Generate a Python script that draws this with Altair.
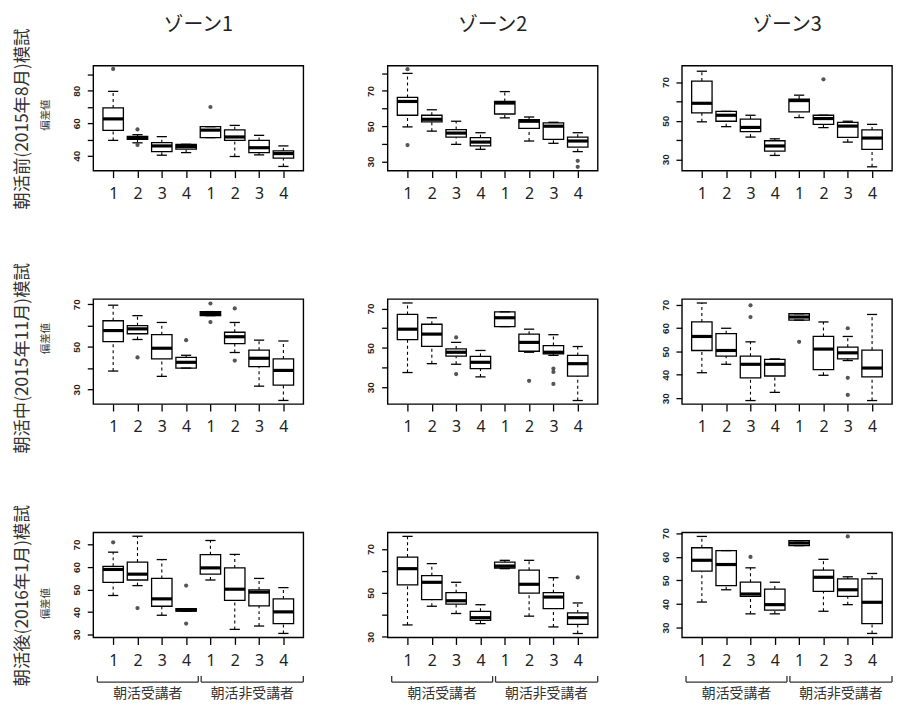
import json
import altair as alt
import pandas as pd

CJK = "Noto Sans CJK JP"

zones = ["ゾーン1", "ゾーン2", "ゾーン3"]
periods = ["朝活前(2015年8月)模試", "朝活中(2015年11月)模試", "朝活後(2016年1月)模試"]
y_title = "偏差値"
groups = ["朝活受講者", "朝活非受講者"]
positions = [1, 2, 3, 4, 5, 6, 7, 8]
tick_labels = ["1", "2", "3", "4", "1", "2", "3", "4"]

# box statistics: (lower whisker, Q1, median, Q3, upper whisker) for boxes 1..8
pre_z1 = [(49.5, 55.6, 62.7, 69.4, 79.6), (48.0, 50.2, 51.2, 52.0, 53.0), (40.4, 42.6, 46.1, 48.1, 51.8),
          (42.0, 44.1, 45.7, 47.1, 47.1), (51.2, 51.2, 55.8, 57.9, 57.9), (39.6, 49.5, 51.6, 56.0, 58.7),
          (40.6, 42.0, 45.0, 49.5, 52.6), (33.5, 38.6, 41.4, 43.0, 46.1)]
pre_z2 = [(49.6, 56.2, 64.0, 66.3, 79.9), (47.2, 52.4, 53.9, 56.2, 59.3), (39.7, 43.8, 46.1, 48.1, 52.8),
          (36.9, 38.8, 41.0, 43.5, 46.3), (54.7, 56.9, 63.1, 64.0, 69.6), (41.6, 48.7, 52.8, 53.7, 55.2),
          (40.3, 42.5, 50.0, 51.9, 52.2), (35.6, 38.2, 41.6, 43.8, 46.3)]
pre_z3 = [(49.4, 54.0, 59.0, 70.5, 75.6), (46.9, 49.7, 52.8, 54.8, 54.8), (41.5, 44.3, 46.5, 50.8, 52.8),
          (32.0, 34.2, 36.9, 39.6, 40.6), (51.6, 54.5, 60.4, 61.2, 63.2), (46.4, 48.1, 51.1, 52.8, 52.8),
          (38.9, 41.3, 47.2, 49.1, 49.7), (26.1, 35.1, 41.0, 45.2, 48.1)]
mid_z1 = [(38.6, 52.4, 57.6, 62.2, 69.5), (53.4, 56.1, 58.4, 59.9, 64.6), (36.1, 44.3, 49.3, 55.7, 61.4),
          (40.0, 40.0, 42.7, 45.0, 46.0), (64.6, 64.6, 65.6, 66.5, 66.5), (47.3, 51.5, 54.7, 56.8, 61.4),
          (31.5, 40.7, 44.6, 48.4, 53.1), (24.8, 32.0, 38.9, 44.3, 52.7)]
mid_z2 = [(37.5, 54.2, 59.5, 67.0, 72.8), (42.0, 50.8, 57.0, 62.0, 65.3), (41.7, 45.8, 47.8, 49.5, 52.8),
          (35.3, 39.5, 42.7, 45.7, 48.7), (60.8, 60.8, 65.3, 68.3, 68.3), (47.8, 48.3, 52.8, 57.0, 59.5),
          (46.2, 47.0, 47.8, 51.2, 56.7), (23.3, 35.7, 42.0, 46.2, 50.7)]
mid_z3 = [(40.9, 50.4, 56.4, 62.6, 70.7), (44.5, 48.0, 50.4, 57.6, 59.9), (29.0, 38.7, 44.5, 48.0, 54.1),
          (32.5, 39.5, 44.5, 46.6, 46.8), (63.4, 63.4, 64.7, 66.1, 66.1), (39.8, 42.2, 51.0, 56.4, 62.6),
          (46.1, 46.8, 49.4, 51.8, 56.4), (29.0, 39.1, 42.9, 50.6, 65.8)]
post_z1 = [(47.3, 53.1, 58.9, 60.3, 66.6), (51.7, 54.2, 56.8, 62.2, 73.7), (38.5, 42.5, 45.8, 54.9, 63.3),
           (40.3, 40.3, 40.8, 41.4, 41.4), (54.2, 56.8, 59.6, 65.5, 71.8), (32.2, 45.1, 50.1, 59.6, 65.6),
           (33.7, 42.7, 48.8, 49.8, 54.9), (30.4, 34.8, 40.0, 45.8, 50.8)]
post_z2 = [(35.4, 53.6, 61.0, 66.3, 75.7), (43.9, 46.9, 54.8, 57.8, 63.3), (40.6, 44.9, 46.4, 50.1, 54.8),
           (36.0, 37.5, 38.7, 41.6, 44.6), (61.0, 61.3, 62.2, 64.0, 64.8), (39.4, 49.9, 53.9, 60.3, 64.8),
           (34.5, 42.8, 48.1, 50.1, 56.9), (31.5, 35.7, 38.7, 40.9, 45.4)]
post_z3 = [(40.8, 53.9, 58.5, 63.8, 68.6), (46.0, 47.8, 56.7, 62.6, 62.6), (35.8, 43.2, 44.2, 49.2, 55.3),
           (35.8, 37.4, 39.7, 46.3, 49.2), (64.7, 64.7, 65.8, 66.8, 66.8), (36.9, 45.3, 51.3, 54.3, 58.9),
           (39.7, 43.2, 46.0, 50.6, 51.5), (27.5, 31.7, 40.7, 50.6, 52.9)]

# outliers: (box position, value)
pre_z1_out = [(1, 93.4), (2, 56.2), (2, 46.7), (5, 70.0)]
pre_z2_out = [(1, 82.3), (1, 39.3), (8, 30.4), (8, 27.0)]
pre_z3_out = [(6, 71.4)]
mid_z1_out = [(2, 45.0), (4, 53.1), (5, 70.3), (5, 61.6), (6, 68.0), (6, 43.5)]
mid_z2_out = [(3, 55.3), (3, 36.7), (6, 33.3), (7, 39.5), (7, 37.8), (7, 31.7)]
mid_z3_out = [(3, 69.7), (3, 64.7), (5, 54.1), (7, 59.9), (7, 38.7), (7, 31.4)]
post_z1_out = [(1, 71.0), (2, 41.7), (4, 51.7), (4, 34.8)]
post_z2_out = [(8, 57.0)]
post_z3_out = [(3, 59.9), (7, 68.6)]

# y axis ranges, tick values and label step per panel
pre_domains = [[30.9, 95.4], [24.8, 84.3], [24.1, 78.5]]
mid_domains = [[23.1, 72.4], [21.5, 74.8], [27.5, 72.4]]
post_domains = [[28.6, 75.4], [29.7, 77.5], [25.8, 70.3]]
pre_ticks = [[40, 50, 60, 70, 80, 90], [30, 40, 50, 60, 70, 80], [30, 40, 50, 60, 70]]
mid_ticks = [[30, 40, 50, 60, 70], [30, 40, 50, 60, 70], [30, 40, 50, 60, 70]]
post_ticks = [[30, 40, 50, 60, 70], [30, 40, 50, 60, 70], [30, 40, 50, 60, 70]]
pre_label_step = [20, 20, 20]
mid_label_step = [20, 20, 10]
post_label_step = [10, 20, 10]

x_domain = [0.18, 8.82]
group_from = [0.35, 4.62]
group_to = [4.5, 8.82]

row_label_dy = [1, 7, 11]
ytitle_dy = [-3, -13, 19]

stats_grid = [[pre_z1, pre_z2, pre_z3], [mid_z1, mid_z2, mid_z3], [post_z1, post_z2, post_z3]]
out_grid = [[pre_z1_out, pre_z2_out, pre_z3_out], [mid_z1_out, mid_z2_out, mid_z3_out],
            [post_z1_out, post_z2_out, post_z3_out]]
dom_grid = [pre_domains, mid_domains, post_domains]
tick_grid = [pre_ticks, mid_ticks, post_ticks]
step_grid = [pre_label_step, mid_label_step, post_label_step]

W, H = 212, 106


def panel(r, c):
    df = pd.DataFrame(stats_grid[r][c], columns=["lo", "q1", "med", "q3", "hi"])
    df["pos"] = positions
    df["bl"] = df["pos"] - 0.42
    df["br"] = df["pos"] + 0.42
    df["cl"] = df["pos"] - 0.21
    df["cr"] = df["pos"] + 0.21
    odf = pd.DataFrame(out_grid[r][c], columns=["pos", "val"])

    xs = alt.Scale(domain=x_domain, nice=False, zero=False)
    ys = alt.Scale(domain=dom_grid[r][c], nice=False, zero=False)
    ticks = tick_grid[r][c]
    if step_grid[r][c] == 10:
        lab_expr = "datum.label"
    else:
        lab_expr = f"(datum.value - {ticks[0]}) % 20 == 0 ? datum.label : ''"

    xaxis = alt.Axis(values=positions, labelExpr=f"{json.dumps(tick_labels)}[datum.value - 1]",
                     title=None, grid=False, domain=False, tickSize=7, tickWidth=1.3,
                     tickColor="black", labelFont="Noto Sans", labelFontSize=16,
                     labelColor="#222", labelPadding=8)
    yaxis = alt.Axis(values=ticks, labelExpr=lab_expr, title=None, grid=False, domain=False,
                     tickSize=6, tickWidth=1.3, tickColor="black", labelAngle=270,
                     labelAlign="center", labelBaseline="bottom", labelFont="Liberation Sans",
                     labelFontWeight="bold", labelFontSize=10, labelColor="#222", labelPadding=6)

    def X(f):
        return alt.X(f, type="quantitative", scale=xs, axis=xaxis)

    def Y(f):
        return alt.Y(f, type="quantitative", scale=ys, axis=yaxis)

    base = alt.Chart(df)
    layers = [
        base.mark_rule(color="black", strokeWidth=1.1, strokeDash=[3, 3]).encode(x=X("pos"), y=Y("q3"), y2="hi"),
        base.mark_rule(color="black", strokeWidth=1.1, strokeDash=[3, 3]).encode(x=X("pos"), y=Y("lo"), y2="q1"),
        base.mark_rect(fill="white", stroke="black", strokeWidth=1.3).encode(x=X("bl"), x2="br", y=Y("q1"), y2="q3"),
        base.mark_rule(color="black", strokeWidth=3.2).encode(x=X("bl"), x2="br", y=Y("med")),
        base.mark_rule(color="black", strokeWidth=1.3).encode(x=X("cl"), x2="cr", y=Y("hi")),
        base.mark_rule(color="black", strokeWidth=1.3).encode(x=X("cl"), x2="cr", y=Y("lo")),
        alt.Chart(odf).mark_circle(size=18, color="#555", opacity=1).encode(x=X("pos"), y=Y("val")),
    ]
    if c == 0:
        layers.append(
            alt.Chart(pd.DataFrame({"t": [periods[r]]})).mark_text(
                angle=270, font=CJK, fontSize=17.5, color="#333", align="center", baseline="middle"
            ).encode(text="t:N", x=alt.value(-71), y=alt.value(H / 2 + row_label_dy[r]))
        )
        layers.append(
            alt.Chart(pd.DataFrame({"t": [y_title]})).mark_text(
                angle=270, font=CJK, fontSize=10.5, color="#333", align="center", baseline="middle"
            ).encode(text="t:N", x=alt.value(-48), y=alt.value(H / 2 + ytitle_dy[r]))
        )
    if r == 0:
        layers.append(
            alt.Chart(pd.DataFrame({"t": [zones[c]]})).mark_text(
                font=CJK, fontSize=20, color="#222", align="center", baseline="middle"
            ).encode(text="t:N", x=alt.value(W / 2), y=alt.value(-41))
        )
    if r == 2:
        bdf = pd.DataFrame({"a": group_from, "b": group_to, "g": groups})
        bdf["m"] = (bdf["a"] + bdf["b"]) / 2
        bc = alt.Chart(bdf)
        layers += [
            bc.mark_rule(color="#333", strokeWidth=1.3).encode(x=X("a"), x2="b", y=alt.value(H + 45)),
            bc.mark_rule(color="#333", strokeWidth=1.3).encode(x=X("a"), y=alt.value(H + 39), y2=alt.value(H + 45)),
            bc.mark_rule(color="#333", strokeWidth=1.3).encode(x=X("b"), y=alt.value(H + 39), y2=alt.value(H + 45)),
            bc.mark_text(font=CJK, fontSize=14, color="#333", baseline="middle").encode(
                x=X("m"), y=alt.value(H + 57), text="g:N"),
        ]
    return alt.layer(*layers).properties(width=W, height=H)


panels = [panel(r, c) for r in range(3) for c in range(3)]
chart = alt.concat(*panels, columns=3, spacing={"row": 129.5, "column": 85}, bounds="flush").properties(
    padding={"left": 5, "top": 3, "right": 0, "bottom": 0},
    background="white",
).configure_view(stroke="black", strokeWidth=1.4)

chart.save("out.html", embed_options={"renderer": "svg", "actions": False})
